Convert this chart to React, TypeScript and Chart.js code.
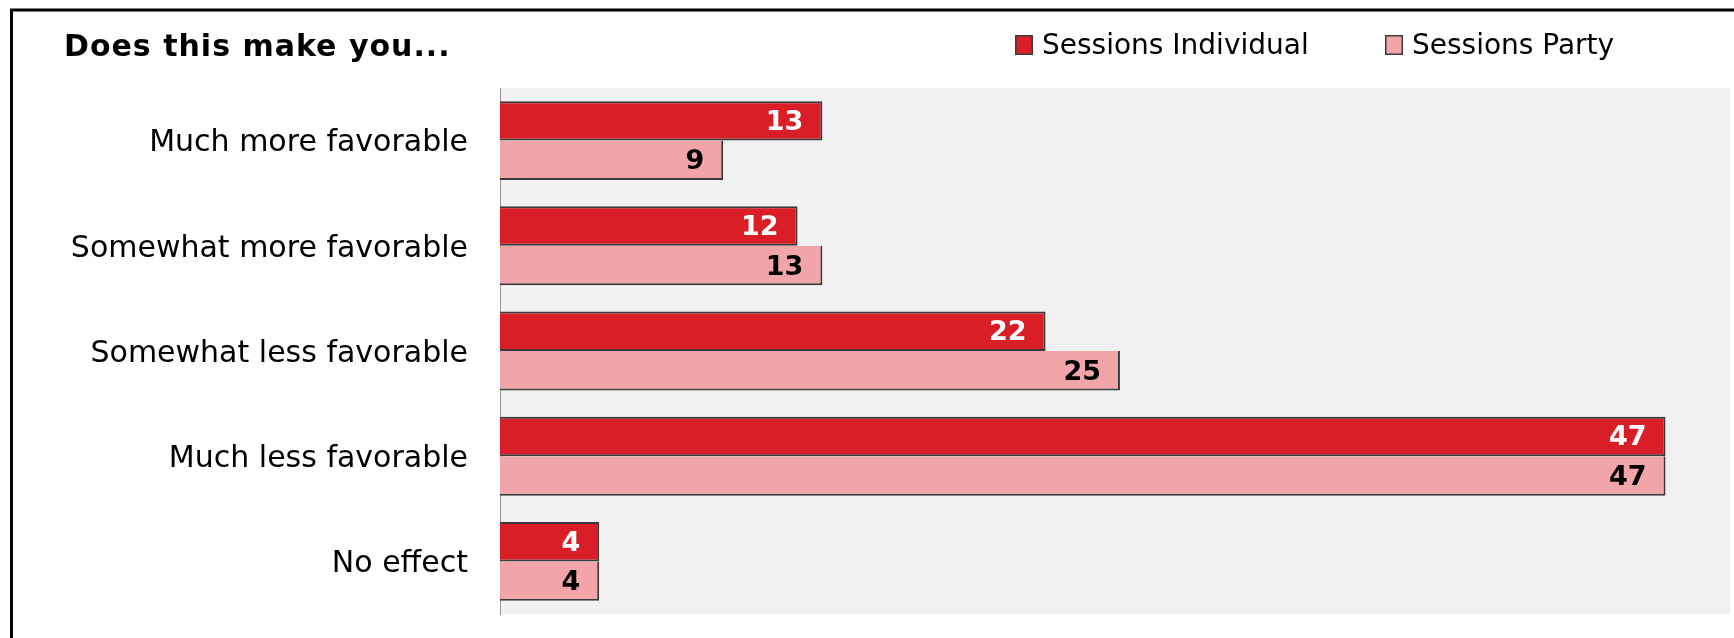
import React, { useEffect, useRef } from "react";
import { Chart, registerables } from "chart.js";

Chart.register(...registerables);

const categories = [
  "Much more favorable",
  "Somewhat more favorable",
  "Somewhat less favorable",
  "Much less favorable",
  "No effect",
];
const individualValues = [13, 12, 22, 47, 4];
const partyValues = [9, 13, 25, 47, 4];
const seriesNames = ["Sessions Individual", "Sessions Party"];
const chartTitle = "Does this make you...";

const RED = "#D91E27";
const PINK = "#F2A5A8";
const EDGE = "#3a3a3a";

export default function App() {
  const ref = useRef<HTMLCanvasElement | null>(null);

  useEffect(() => {
    if (!ref.current) return;

    const bgPlugin = {
      id: "bgPlugin",
      beforeDraw(chart: any) {
        const { ctx, chartArea } = chart;
        ctx.save();
        ctx.fillStyle = "#F1F1F1";
        ctx.fillRect(chartArea.left, chartArea.top, chartArea.right - chartArea.left, chartArea.bottom - chartArea.top);
        ctx.restore();
      },
    };

    const framePlugin = {
      id: "framePlugin",
      afterDraw(chart: any) {
        const { ctx } = chart;
        ctx.save();
        ctx.strokeStyle = "#000";
        ctx.lineWidth = 3;
        ctx.beginPath();
        ctx.moveTo(11.5, 640);
        ctx.lineTo(11.5, 10);
        ctx.lineTo(1740, 10);
        ctx.stroke();
        ctx.restore();
      },
    };

    const headerPlugin = {
      id: "headerPlugin",
      afterDraw(chart: any) {
        const { ctx } = chart;
        ctx.save();
        ctx.fillStyle = "#000";
        ctx.textBaseline = "alphabetic";
        ctx.textAlign = "left";
        ctx.font = "bold 30px 'DejaVu Sans'";
        (ctx as any).letterSpacing = "1px";
        ctx.fillText(chartTitle, 64, 56);
        (ctx as any).letterSpacing = "0px";

        const positions = [1015, 1385];
        chart.data.datasets.forEach((ds: any, i: number) => {
          const x = positions[i];
          ctx.fillStyle = ds.backgroundColor;
          ctx.fillRect(x, 35, 18, 20);
          ctx.strokeStyle = EDGE;
          ctx.lineWidth = 1.5;
          ctx.strokeRect(x + 0.75, 35.75, 16.5, 18.5);
          ctx.fillStyle = "#000";
          ctx.font = "28px 'DejaVu Sans'";
          ctx.fillText(ds.label, x + 27, 54);
        });
        ctx.restore();
      },
    };

    const valuePlugin = {
      id: "valuePlugin",
      afterDatasetsDraw(chart: any) {
        const { ctx } = chart;
        ctx.save();
        ctx.font = "bold 27px 'DejaVu Sans'";
        ctx.textAlign = "right";
        ctx.textBaseline = "alphabetic";
        chart.data.datasets.forEach((ds: any, di: number) => {
          const meta = chart.getDatasetMeta(di);
          meta.data.forEach((el: any, i: number) => {
            ctx.fillStyle = di === 0 ? "#fff" : "#000";
            ctx.fillText(String(ds.data[i]), el.x - 19, el.y + 9);
          });
        });
        ctx.restore();
      },
    };

    const chart = new Chart(ref.current, {
      type: "bar",
      data: {
        labels: categories,
        datasets: [
          {
            label: seriesNames[0],
            data: individualValues,
            backgroundColor: RED,
            borderColor: EDGE,
            borderWidth: { top: 2, right: 2, bottom: 2, left: 0 },
          },
          {
            label: seriesNames[1],
            data: partyValues,
            backgroundColor: PINK,
            borderColor: EDGE,
            borderWidth: { top: 0, right: 2, bottom: 2, left: 0 },
          },
        ],
      },
      options: {
        indexAxis: "y",
        animation: false,
        responsive: false,
        devicePixelRatio: 1,
        layout: { padding: { left: 0, top: 88, right: 4, bottom: 24 } },
        plugins: {
          legend: { display: false },
          title: { display: false },
          tooltip: { enabled: false },
        },
        datasets: {
          bar: { categoryPercentage: 0.75, barPercentage: 1.0, inflateAmount: 0 },
        },
        scales: {
          x: {
            display: false,
            min: 0,
            max: 49.6,
          },
          y: {
            afterFit(scale: any) {
              scale.width = 500;
              scale.paddingTop = 0;
              scale.paddingBottom = 0;
            },
            grid: { color: "transparent", drawTicks: false },
            border: { display: true, color: "#999", width: 1 },
            ticks: {
              padding: 32,
              labelOffset: 3,
              color: "#000",
              font: { family: "'DejaVu Sans'", size: 30 },
            },
          },
        },
      },
      plugins: [bgPlugin, valuePlugin, headerPlugin, framePlugin],
    } as any);

    return () => chart.destroy();
  }, []);

  return (
    <div style={{ position: "fixed", left: 0, top: 0, width: 1734, height: 638, background: "#fff" }}>
      <canvas ref={ref} width={1734} height={638} style={{ width: 1734, height: 638, display: "block" }} />
    </div>
  );
}
